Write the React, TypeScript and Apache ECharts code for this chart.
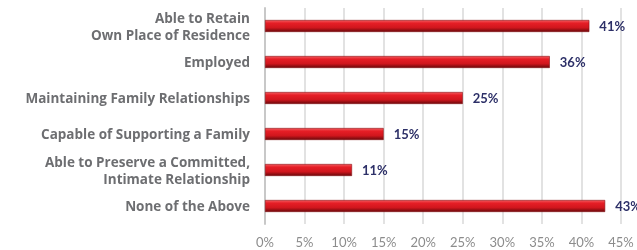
import React, { useEffect, useRef } from "react";
import * as echarts from "echarts";

const categories = [
  "Able to Retain\nOwn Place of Residence",
  "Employed",
  "Maintaining Family Relationships",
  "Capable of Supporting a Family",
  "Able to Preserve a Committed,\nIntimate Relationship",
  "None of the Above",
];
const values = [41, 36, 25, 15, 11, 43];
const axisMin = 0;
const axisMax = 45;
const axisStep = 5;

export default function App() {
  const ref = useRef<HTMLDivElement>(null);
  useEffect(() => {
    if (!ref.current) return;
    const chart = echarts.init(ref.current, undefined, { renderer: "svg" });
    chart.setOption({
      animation: false,
      grid: { left: 265, right: 16, top: 8, bottom: 26, containLabel: false },
      xAxis: {
        type: "value",
        min: axisMin,
        max: axisMax,
        interval: axisStep,
        axisLine: { show: false },
        axisTick: { show: false },
        splitLine: { show: true, lineStyle: { color: "#d9d9d9", width: 1.5 } },
        axisLabel: {
          formatter: "{value}%",
          color: "#8c8c8c",
          fontFamily: "Lato",
          fontSize: 13,
          margin: 11,
        },
      },
      yAxis: {
        type: "category",
        inverse: true,
        data: categories,
        axisLine: { show: true, lineStyle: { color: "#c8c8c8", width: 2 } },
        axisTick: { show: false },
        axisLabel: {
          color: "#6d6e71",
          fontFamily: "Open Sans",
          fontWeight: "bold",
          fontSize: 13.5,
          lineHeight: 17,
          margin: 15,
          align: "right",
        },
      },
      series: [
        {
          type: "bar",
          data: values,
          barWidth: 12,
          itemStyle: {
            color: new echarts.graphic.LinearGradient(0, 0, 0, 1, [
              { offset: 0, color: "#f25a5e" },
              { offset: 0.25, color: "#e61e26" },
              { offset: 0.65, color: "#d0161d" },
              { offset: 1, color: "#6a080b" },
            ]),
            borderColor: "#8a1216",
            borderWidth: 0.6,
          },
          label: {
            show: true,
            position: "right",
            distance: 10,
            formatter: "{c}%",
            color: "#2d3068",
            fontFamily: "Lato",
            fontWeight: "bold",
            fontSize: 13,
          },
        },
      ],
    });
    return () => chart.dispose();
  }, []);
  return (
    <div
      ref={ref}
      style={{ position: "fixed", left: 0, top: 0, width: 637, height: 250 }}
    />
  );
}
